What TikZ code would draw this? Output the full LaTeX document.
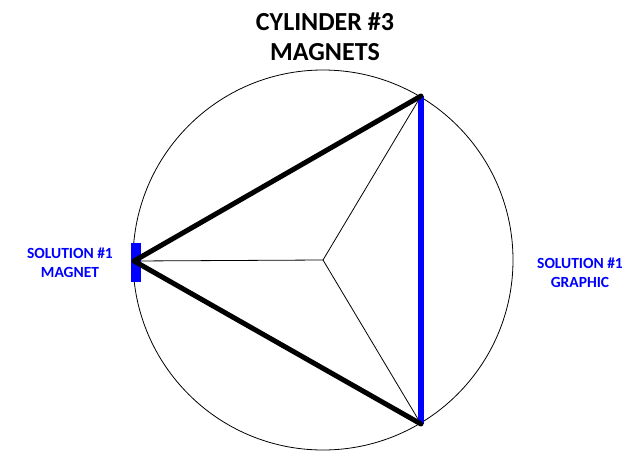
\documentclass[tikz,border=0pt]{standalone}
\usepackage{fontspec}
\setmainfont{Carlito}
\begin{document}
\begin{tikzpicture}[x=1pt,y=-1pt,
  thinline/.style={draw=black,line width=0.8pt},
  thickline/.style={draw=black,line width=5pt,line cap=round,line join=round},
  blueline/.style={draw=blue,line width=6pt},
  title/.style={font=\bfseries\fontsize{26}{30}\selectfont,align=center,text=black},
  bluelabel/.style={font=\bfseries\fontsize{15.5}{19}\selectfont,align=center,text=blue}]
\useasboundingbox (0,0) rectangle (628,452);
\coordinate (O) at (323,260);
\coordinate (L) at (134,261);
\coordinate (T) at (421,96);
\coordinate (B) at (421,424);
\node[circle,draw=black,line width=0.8pt,minimum size=380pt,inner sep=0pt] (circ) at (O) {};
\draw[thinline] (O) -- (L);
\draw[thinline] (O) -- (T);
\draw[thinline] (O) -- (B);
\node[fill=blue,minimum width=10pt,minimum height=39pt,inner sep=0pt] (mag) at (136,262.5) {};
\draw[blueline] (T) -- (B);
\draw[thickline] (B) -- (L) -- (T);
\node[title] (ttl) at (325,37) {CYLINDER \#3\\MAGNETS};
\node[bluelabel] (sm) at (70,262.5) {SOLUTION \#1\\MAGNET};
\node[bluelabel] (sg) at (580,272.5) {SOLUTION \#1\\GRAPHIC};
\end{tikzpicture}
\end{document}
